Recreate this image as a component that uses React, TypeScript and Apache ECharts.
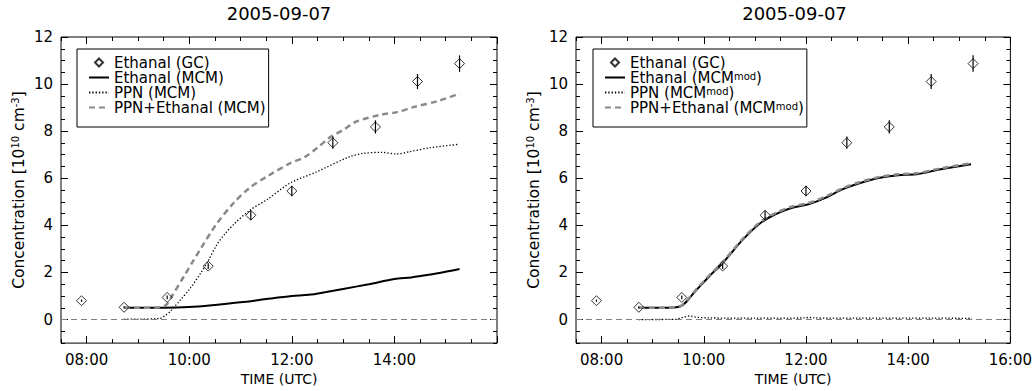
import React, { useEffect, useRef } from "react";
import * as echarts from "echarts";

const FONT = "DejaVu Sans";

// GC measurements (decimal hours UTC)
const gcTimes = [7.9, 8.73, 9.57, 10.37, 11.2, 12.0, 12.8, 13.63, 14.45, 15.27];
const gcValues = [0.8, 0.52, 0.94, 2.27, 4.43, 5.46, 7.51, 8.18, 10.11, 10.87];
const gcErrors = [0.05, 0.05, 0.08, 0.12, 0.2, 0.22, 0.26, 0.28, 0.32, 0.35];

// Left panel: MCM
const ethMcmTimes = [8.73, 9.0, 9.5, 10.0, 10.5, 11.0, 11.5, 12.0, 12.33, 12.67, 13.0, 13.5, 14.0, 14.33, 14.67, 15.0, 15.27];
const ethMcmValues = [0.5, 0.5, 0.5, 0.53, 0.62, 0.73, 0.87, 1.0, 1.05, 1.17, 1.3, 1.5, 1.72, 1.79, 1.9, 2.03, 2.15];

const ppnMcmTimes = [8.73, 9.0, 9.43, 9.55, 9.63, 9.83, 10.02, 10.22, 10.37, 10.53, 10.7, 10.87, 11.18, 11.52, 11.97, 12.48, 13.13, 13.4, 13.75, 14.05, 14.3, 14.7, 15.25];
const ppnMcmValues = [0.02, 0.02, 0.05, 0.2, 0.35, 0.84, 1.33, 1.96, 2.5, 3.15, 3.65, 4.05, 4.64, 5.1, 5.8, 6.27, 6.92, 7.06, 7.1, 7.03, 7.13, 7.3, 7.44];

const sumMcmTimes = [8.73, 9.0, 9.43, 9.55, 9.65, 9.9, 10.08, 10.22, 10.53, 10.87, 11.18, 11.52, 11.97, 12.25, 12.5, 12.75, 13.0, 13.25, 13.73, 14.05, 14.37, 14.88, 15.27];
const sumMcmValues = [0.5, 0.5, 0.52, 0.62, 0.95, 1.85, 2.5, 3.0, 4.05, 4.96, 5.6, 6.08, 6.64, 6.9, 7.3, 7.75, 8.05, 8.4, 8.7, 8.81, 9.02, 9.3, 9.6];

// Right panel: MCM mod
const ethModTimes = [8.73, 9.0, 9.3, 9.47, 9.58, 9.7, 9.8, 10.1, 10.37, 10.75, 11.08, 11.4, 11.73, 12.05, 12.38, 12.7, 13.03, 13.42, 13.8, 14.2, 14.58, 15.23];
const ethModValues = [0.5, 0.5, 0.5, 0.52, 0.6, 0.85, 1.12, 1.82, 2.4, 3.36, 4.05, 4.47, 4.75, 4.9, 5.17, 5.52, 5.78, 6.01, 6.13, 6.18, 6.36, 6.6];
const sumModValues = [0.5, 0.5, 0.5, 0.53, 0.62, 0.88, 1.15, 1.86, 2.44, 3.4, 4.1, 4.52, 4.8, 4.95, 5.22, 5.56, 5.82, 6.05, 6.17, 6.22, 6.4, 6.64];

const ppnModTimes = [8.73, 9.45, 9.6, 9.72, 9.85, 10.1, 11.0, 12.0, 12.05, 12.15, 13.0, 14.5, 15.25];
const ppnModValues = [0.0, 0.01, 0.1, 0.15, 0.1, 0.07, 0.06, 0.07, 0.1, 0.07, 0.06, 0.06, 0.05];

const xMajorTicks = [8, 10, 12, 14, 16];
const xLabelsLeft = [8, 10, 12, 14];
const xLabelsRight = [8, 10, 12, 14, 16];
const yMajorTicks = [0, 2, 4, 6, 8, 10, 12];

const titleText = "2005-09-07";
const legendLeft = ["Ethanal (GC)", "Ethanal (MCM)", "PPN (MCM)", "PPN+Ethanal (MCM)"];
const legendRight = ["Ethanal (GC)", "Ethanal (MCMmod)", "PPN (MCMmod)", "PPN+Ethanal (MCMmod)"];

const zip = (t: number[], v: number[]) => t.map((x, i) => [x, v[i]]);
const fmtTime = (v: number) => {
  const h = Math.round(v);
  return (h < 10 ? "0" : "") + h + ":00";
};

const GRAY = "#8a8a8a";
const FS = 15;

function makeXAxes(gridIndex: number, labels: number[]) {
  const base = {
    type: "value",
    gridIndex,
    min: 7.5,
    max: 16,
    interval: 0.5,
    axisLine: { show: false, onZero: false },
    splitLine: { show: false },
  };
  const major = (position: string, withLabels: boolean) => ({
    ...base,
    position,
    axisTick: { show: true, inside: true, length: 7, customValues: xMajorTicks, lineStyle: { color: "#000", width: 1 } },
    axisLabel: withLabels
      ? { show: true, customValues: labels, formatter: fmtTime, margin: 9, fontSize: FS, fontFamily: FONT, color: "#000" }
      : { show: false },
    ...(withLabels
      ? {
          name: "TIME (UTC)",
          nameLocation: "middle",
          nameGap: 28,
          nameTextStyle: { fontSize: 14, fontFamily: FONT, color: "#000" },
        }
      : {}),
  });
  const minor = (position: string) => ({
    ...base,
    position,
    axisTick: { show: true, inside: true, length: 4, lineStyle: { color: "#000", width: 1 } },
    axisLabel: { show: false },
  });
  return [major("bottom", true), minor("bottom"), major("top", false), minor("top")];
}

function makeYAxes(gridIndex: number) {
  const base = {
    type: "value",
    gridIndex,
    min: -1,
    max: 12,
    interval: 0.5,
    axisLine: { show: false, onZero: false },
    splitLine: { show: false },
  };
  const major = (position: string, withLabels: boolean) => ({
    ...base,
    position,
    axisTick: { show: true, inside: true, length: 7, customValues: yMajorTicks, lineStyle: { color: "#000", width: 1 } },
    axisLabel: withLabels
      ? { show: true, customValues: yMajorTicks, margin: 8, fontSize: FS, fontFamily: FONT, color: "#000" }
      : { show: false },
    ...(withLabels
      ? {
          name: "{n|Concentration [10}{s|10}{n| cm}{s|-3}{n|]}",
          nameLocation: "middle",
          nameGap: 34,
          nameTextStyle: {
            fontSize: FS,
            fontFamily: FONT,
            color: "#000",
            rich: {
              n: { fontSize: 15.5, fontFamily: FONT, color: "#000", lineHeight: 17, verticalAlign: "bottom" },
              s: { fontSize: 10, fontFamily: FONT, color: "#000", verticalAlign: "top" },
            },
          },
        }
      : {}),
  });
  const minor = (position: string) => ({
    ...base,
    position,
    axisTick: { show: true, inside: true, length: 4, lineStyle: { color: "#000", width: 1 } },
    axisLabel: { show: false },
  });
  return [major("left", true), minor("left"), major("right", false), minor("right")];
}

function panelSeries(
  xi: number,
  names: string[],
  eth: number[][],
  ppn: number[][],
  sum: number[][]
) {
  const errData = gcTimes.map((t, i) => [t, gcValues[i] - gcErrors[i], gcValues[i] + gcErrors[i]]);
  return [
    {
      name: names[1],
      type: "line",
      xAxisIndex: xi,
      yAxisIndex: xi,
      data: eth,
      symbol: "none",
      smooth: 0.3,
      lineStyle: { color: "#000", width: 2, type: "solid" },
      itemStyle: { color: "#000" },
      z: 2,
      markLine: {
        silent: true,
        symbol: ["none", "none"],
        label: { show: false },
        lineStyle: { type: [6, 4], color: "#808080", width: 1 },
        data: [{ yAxis: 0 }],
      },
    },
    {
      name: names[2],
      type: "line",
      xAxisIndex: xi,
      yAxisIndex: xi,
      data: ppn,
      symbol: "none",
      smooth: 0.3,
      lineStyle: { color: "#000", width: 1.3, type: [1.3, 2] },
      itemStyle: { color: "#000" },
      z: 3,
    },
    {
      name: names[3],
      type: "line",
      xAxisIndex: xi,
      yAxisIndex: xi,
      data: sum,
      symbol: "none",
      smooth: 0.3,
      lineStyle: { color: GRAY, width: 2.5, type: [6, 4] },
      itemStyle: { color: GRAY },
      z: 4,
    },
    {
      name: names[0],
      type: "scatter",
      xAxisIndex: xi,
      yAxisIndex: xi,
      data: zip(gcTimes, gcValues),
      symbol: "diamond",
      symbolSize: 10,
      itemStyle: { color: "rgba(255,255,255,0)", borderColor: "#000", borderWidth: 1 },
      z: 6,
    },
    {
      name: "errors",
      type: "custom",
      xAxisIndex: xi,
      yAxisIndex: xi,
      data: errData,
      encode: { x: 0, y: [1, 2] },
      renderItem: (params: any, api: any) => {
        const p1 = api.coord([api.value(0), api.value(1)]);
        const p2 = api.coord([api.value(0), api.value(2)]);
        return {
          type: "line",
          shape: { x1: p1[0], y1: p1[1], x2: p2[0], y2: p2[1] },
          style: { stroke: "#000", lineWidth: 1.2 },
        };
      },
      z: 7,
    },
  ];
}

const noSymbol = { color: "rgba(0,0,0,0)", borderColor: "rgba(0,0,0,0)", borderWidth: 0 };
const legendItems = (names: string[]) =>
  names.map((n, i) =>
    i === 0
      ? { name: n, icon: "path://M4 0L8 4L4 8L0 4Z" }
      : { name: n, itemStyle: noSymbol }
  );

export default function App() {
  const ref = useRef<HTMLDivElement>(null);
  useEffect(() => {
    if (!ref.current) return;
    const chart = echarts.init(ref.current, null, { renderer: "svg" });
    const legendCommon = {
      orient: "vertical",
      top: 49,
      padding: [6, 3, 12, 11],
      itemGap: 0,
      itemWidth: 20,
      itemHeight: 8,
      symbolKeepAspect: true,
      borderColor: "#000",
      borderWidth: 1,
      borderRadius: 0,
      selectedMode: false,
      textStyle: {
        fontSize: FS,
        fontFamily: FONT,
        color: "#000",
        lineHeight: 12.5,
        rich: {
          s: { fontSize: 10, fontFamily: FONT, color: "#000", verticalAlign: "top", lineHeight: 9 },
        },
      },
    };
    const option: any = {
      animation: false,
      backgroundColor: "#fff",
      grid: [
        { left: 61, top: 37, width: 436, height: 309, show: true, borderColor: "#000", borderWidth: 1, backgroundColor: "transparent" },
        { left: 576, top: 37, width: 437, height: 309, show: true, borderColor: "#000", borderWidth: 1, backgroundColor: "transparent" },
      ],
      xAxis: [...makeXAxes(0, xLabelsLeft), ...makeXAxes(1, xLabelsRight)],
      yAxis: [...makeYAxes(0), ...makeYAxes(1)],
      legend: [
        { ...legendCommon, left: 77, data: legendItems(legendLeft) },
        {
          ...legendCommon,
          left: 593,
          data: legendItems(legendRight),
          formatter: (name: string) => name.replace("mod", "{s|mod}"),
        },
      ],
      graphic: [
        {
          type: "text",
          x: 279,
          y: 13,
          style: { text: titleText, align: "center", verticalAlign: "middle", fontSize: 18, fontFamily: FONT, fill: "#000" },
        },
        {
          type: "text",
          x: 794.5,
          y: 13,
          style: { text: titleText, align: "center", verticalAlign: "middle", fontSize: 18, fontFamily: FONT, fill: "#000" },
        },
      ],
      series: [
        ...panelSeries(0, legendLeft, zip(ethMcmTimes, ethMcmValues), zip(ppnMcmTimes, ppnMcmValues), zip(sumMcmTimes, sumMcmValues)),
        ...panelSeries(4, legendRight, zip(ethModTimes, ethModValues), zip(ppnModTimes, ppnModValues), zip(ethModTimes, sumModValues)),
      ],
    };
    chart.setOption(option);
    return () => chart.dispose();
  }, []);
  return <div ref={ref} style={{ position: "absolute", left: 0, top: 0, width: 1035, height: 391 }} />;
}
